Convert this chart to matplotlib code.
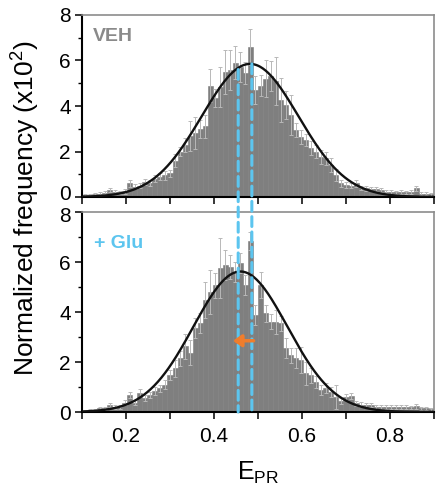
import numpy as np
import matplotlib
matplotlib.use('Agg')
import matplotlib.pyplot as plt
from matplotlib.patches import ConnectionPatch, FancyArrowPatch
from matplotlib.transforms import ScaledTranslation

plt.rcParams['font.family'] = ['Liberation Sans', 'DejaVu Sans']
plt.rcParams['mathtext.fontset'] = 'custom'
plt.rcParams['mathtext.rm'] = 'Liberation Sans'
plt.rcParams['mathtext.it'] = 'Liberation Sans:italic'
plt.rcParams['mathtext.bf'] = 'Liberation Sans:bold'

# ---------------- data ----------------
bin_lo, bin_hi, n_bins = 0.1, 0.9, 70

veh_freq = [0.08, 0.10, 0.12, 0.15, 0.18, 0.30, 0.22, 0.20, 0.25, 0.60,
            0.45, 0.50, 0.66, 0.62, 0.80, 0.90, 0.95, 1.05, 1.60, 2.00,
            2.30, 2.70, 2.80, 3.00, 3.10, 4.90, 4.35, 4.85, 5.50, 5.58,
            5.90, 5.70, 5.45, 6.60, 4.70, 4.90, 5.20, 5.30, 5.10, 4.26,
            4.05, 3.60, 2.95, 2.65, 2.50, 2.15, 2.00, 1.75, 1.70, 1.40,
            0.97, 0.60, 0.52, 0.50, 0.60, 0.40, 0.38, 0.36, 0.35, 0.32,
            0.24, 0.22, 0.20, 0.22, 0.20, 0.22, 0.38, 0.15, 0.14, 0.12]
veh_err = [0.05, 0.05, 0.06, 0.06, 0.07, 0.10, 0.08, 0.08, 0.10, 0.15,
           0.10, 0.12, 0.12, 0.12, 0.15, 0.15, 0.20, 0.15, 0.30, 0.20,
           0.30, 0.66, 0.70, 0.40, 0.50, 0.73, 0.40, 0.88, 0.98, 0.88,
           0.73, 0.66, 0.50, 0.80, 0.60, 0.45, 0.80, 0.66, 1.05, 0.95,
           0.60, 0.88, 0.30, 0.30, 0.25, 0.30, 0.30, 0.30, 0.30, 0.30,
           0.25, 0.15, 0.12, 0.12, 0.15, 0.10, 0.10, 0.10, 0.10, 0.08,
           0.08, 0.08, 0.07, 0.07, 0.07, 0.07, 0.12, 0.06, 0.06, 0.06]

glu_freq = [0.05, 0.08, 0.08, 0.15, 0.15, 0.28, 0.21, 0.21, 0.37, 0.68,
            0.37, 0.75, 0.55, 0.70, 0.85, 0.95, 1.10, 1.50, 1.75, 2.15,
            2.64, 2.37, 3.35, 3.55, 4.48, 4.80, 5.08, 5.75, 5.88, 5.80,
            5.60, 5.95, 5.08, 6.85, 3.88, 5.08, 3.95, 3.61, 3.60, 3.55,
            2.55, 2.28, 2.15, 2.08, 1.55, 1.48, 1.21, 0.88, 0.95, 0.80,
            0.60, 0.45, 0.62, 0.65, 0.35, 0.30, 0.28, 0.28, 0.22, 0.21,
            0.20, 0.20, 0.20, 0.20, 0.20, 0.19, 0.24, 0.15, 0.15, 0.12]
glu_err = [0.05, 0.05, 0.05, 0.06, 0.06, 0.08, 0.07, 0.07, 0.10, 0.13,
           0.10, 0.16, 0.12, 0.12, 0.15, 0.15, 0.18, 0.20, 0.35, 0.30,
           0.50, 0.50, 0.40, 0.40, 0.73, 0.87, 0.50, 1.20, 0.60, 0.47,
           0.40, 0.40, 0.40, 0.35, 0.40, 0.53, 0.33, 0.30, 0.47, 0.30,
           0.40, 0.30, 0.40, 0.53, 0.47, 0.30, 0.25, 0.20, 0.20, 0.20,
           0.47, 0.12, 0.12, 0.12, 0.10, 0.10, 0.10, 0.08, 0.08, 0.08,
           0.07, 0.07, 0.07, 0.07, 0.07, 0.07, 0.10, 0.06, 0.06, 0.06]

# Gaussian fits: amplitude, centre, sigma
veh_fit = [5.85, 0.482, 0.110]
glu_fit = [5.62, 0.460, 0.107]

# mean E_PR markers (dashed) and shift arrow (from, to, height)
veh_mean = 0.486
glu_mean = 0.455
veh_line_top = 5.85
glu_line_top = 5.60
arrow_from, arrow_to, arrow_y = 0.490, 0.443, 2.85

x_ticks = [0.1, 0.2, 0.3, 0.4, 0.5, 0.6, 0.7, 0.8, 0.9]
x_ticklabels = ['', '0.2', '', '0.4', '', '0.6', '', '0.8', '']
y_ticks = [0, 2, 4, 6, 8]

# ---------------- style ----------------
bar_color = '#7f7f7f'
err_color = '#b8b8b8'
blue = '#5cc5ef'
orange = '#f07d2c'
frame_gray = '#8c8c8c'

fig = plt.figure(figsize=(4.46, 5.01), dpi=100)
ax1 = fig.add_axes([82/446, 1-197/501, 352/446, 182/501])
ax2 = fig.add_axes([82/446, 1-412/501, 352/446, 200/501])

edges = np.linspace(bin_lo, bin_hi, n_bins + 1)
centers = (edges[:-1] + edges[1:]) / 2
bw = edges[1] - edges[0]
xs = np.linspace(bin_lo, bin_hi, 400)

for ax, freq, err, fit in [(ax1, veh_freq, veh_err, veh_fit),
                           (ax2, glu_freq, glu_err, glu_fit)]:
    ax.bar(centers, freq, width=bw, color=bar_color, edgecolor=bar_color,
           linewidth=0.4, zorder=1)
    ax.errorbar(centers, freq, yerr=err, fmt='none', ecolor=err_color,
                elinewidth=0.7, capsize=1.4, capthick=0.7, zorder=2)
    A, mu, sg = fit
    ax.plot(xs, A*np.exp(-(xs-mu)**2/(2*sg**2)), color='#111111', lw=1.7, zorder=3)
    ax.set_xlim(bin_lo, bin_hi)
    ax.set_ylim(0, 8)
    ax.set_yticks(y_ticks)
    ax.set_yticks([1, 3, 5, 7], minor=True)
    ax.set_xticks(x_ticks)
    ax.tick_params(axis='both', which='major', direction='out', length=5,
                   width=1.1, labelsize=15, pad=3, color='black')
    ax.tick_params(axis='y', which='minor', direction='out', length=3, width=1.0)
    for s in ['left', 'bottom']:
        ax.spines[s].set_color('black')
        ax.spines[s].set_linewidth(1.5)
    for s in ['top', 'right']:
        ax.spines[s].set_color(frame_gray)
        ax.spines[s].set_linewidth(1.2)

ax1.set_xticklabels([])
ax2.set_xticklabels(x_ticklabels)
ax2.tick_params(axis='x', pad=6)

# the "0" of the upper panel sits slightly higher, as in the reference
lbl0 = ax1.yaxis.get_major_ticks()[0].label1
lbl0.set_transform(lbl0.get_transform() + ScaledTranslation(0, 0.045, fig.dpi_scale_trans))
lbl8 = ax2.yaxis.get_major_ticks()[-1].label1
lbl8.set_transform(lbl8.get_transform() + ScaledTranslation(0, -0.02, fig.dpi_scale_trans))

ax1.text(0.03, 0.88, 'VEH', transform=ax1.transAxes, color='#8a8a8a',
         fontsize=14, fontweight='bold', va='center', ha='left')
ax2.text(0.035, 0.845, '+ Glu', transform=ax2.transAxes, color=blue,
         fontsize=14, fontweight='bold', va='center', ha='left')

fig.text(0.058, 0.585, 'Normalized frequency (x10$^{2}$)', rotation=90,
         fontsize=19, ha='center', va='center')
ax2.set_xlabel(r'$\mathregular{E_{PR}}$', fontsize=18, labelpad=10)

for xm, ytop in [(glu_mean, glu_line_top), (veh_mean, veh_line_top)]:
    cp = ConnectionPatch(xyA=(xm, ytop), coordsA=ax1.transData,
                         xyB=(xm, 0), coordsB=ax2.transData,
                         color=blue, lw=2.2, linestyle=(0, (3.2, 1.8)), zorder=5)
    fig.add_artist(cp)

arr = FancyArrowPatch((arrow_from, arrow_y), (arrow_to, arrow_y),
                      transform=ax2.transData, color=orange,
                      arrowstyle='-|>,head_length=5,head_width=3.5',
                      lw=2.5, shrinkA=0, shrinkB=0, zorder=6)
fig.add_artist(arr)

fig.savefig('out.png', dpi=100)
